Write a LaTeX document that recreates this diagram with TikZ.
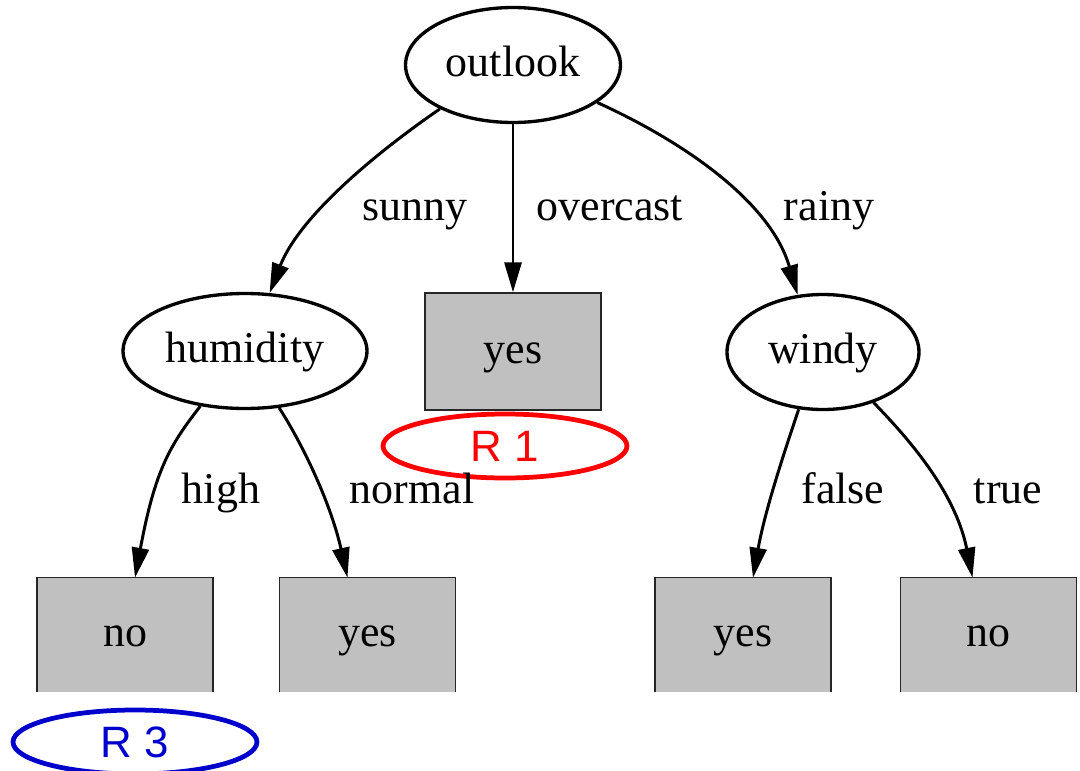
\documentclass[tikz,border=0pt]{standalone}
\usepackage{fontspec}
\setmainfont{Liberation Serif}
\setsansfont{Liberation Sans}
\usetikzlibrary{shapes.geometric,arrows.meta,calc}
\definecolor{boxgray}{RGB}{192,192,192}
\definecolor{rblue}{RGB}{0,0,204}
\begin{document}
\begin{tikzpicture}[x=0.02cm,y=-0.02cm,
  font=\fontsize{25}{30}\selectfont,
  attr/.style={ellipse, draw, line width=1.9pt, inner sep=0pt, minimum height=2.3cm,
    text height=15.5pt, text depth=2pt},
  leaf/.style={rectangle, draw=black!85, line width=0.8pt, fill=boxgray,
    minimum width=3.52cm, minimum height=2.34cm, inner sep=0pt,
    text height=15.5pt, text depth=2pt},
  openleaf/.style={rectangle, fill=boxgray, minimum width=3.5cm, minimum height=2.28cm,
    inner sep=0pt, text height=15.5pt, text depth=2pt},
  boxline/.style={draw=black!85, line width=0.8pt},
  conn/.style={line width=1.7pt, -{Triangle[length=0.6cm,width=0.34cm]}},
  elabel/.style={anchor=base, inner sep=0pt},
  rulenode/.style={ellipse, line width=2.7pt, inner sep=0pt, minimum width=4.88cm,
    minimum height=1.28cm, font=\sffamily\fontsize{25}{30}\selectfont}
]
\useasboundingbox (0,0) rectangle (1080,771);
\clip (0,0) rectangle (1080,771);

% nodes
\node[attr, minimum width=4.3cm] (outlook) at (513,65) {outlook};
\node[attr, minimum width=4.88cm] (humidity) at (245,351) {humidity};
\node[leaf] (yes1) at (513,351.5) {yes};
\node[attr, minimum width=3.84cm] (windy) at (823,352) {windy};

\node[openleaf] (no1) at (125,635) {no};
\node[openleaf] (yes2) at (367.5,635) {yes};
\node[openleaf] (yes3) at (743,635) {yes};
\node[openleaf] (no3) at (988.5,635) {no};
\foreach \n in {no1,yes2,yes3,no3}
  \draw[boxline] (\n.south west) -- (\n.north west) -- (\n.north east) -- (\n.south east);

\node[rulenode, draw=red, text=red] (r1) at (505,446) {R 1};
\node[rulenode, draw=rblue, text=rblue] (r3) at (135,742) {R 3};

% connectors
\draw[conn] (outlook.211) .. controls (380,150) and (300,215) .. (humidity.67);
\draw[conn] (outlook) -- (yes1);
\draw[conn] (outlook.-24) .. controls (680,140) and (770,200) .. (windy.114);
\draw[conn] (humidity.231) .. controls (170,445) and (155,470) .. ($(no1.north)+(10,0)$);
\draw[conn] (humidity.-59) .. controls (300,440) and (330,500) .. ($(yes2.north)+(-20,0)$);
\draw[conn] (windy.247) .. controls (785,450) and (765,510) .. ($(yes3.north)+(10,0)$);
\draw[conn] (windy.-45) .. controls (905,435) and (955,490) .. ($(no3.north)+(-16,0)$);

% edge labels
\node[elabel] (lsunny) at (415,220) {sunny};
\node[elabel] (lovercast) at (610,220) {overcast};
\node[elabel] (lrainy) at (829,220) {rainy};
\node[elabel] (lhigh) at (221,503) {high};
\node[elabel] (lnormal) at (412,503) {normal};
\node[elabel] (lfalse) at (843,503) {false};
\node[elabel] (ltrue) at (1008,503) {true};
\end{tikzpicture}
\end{document}
